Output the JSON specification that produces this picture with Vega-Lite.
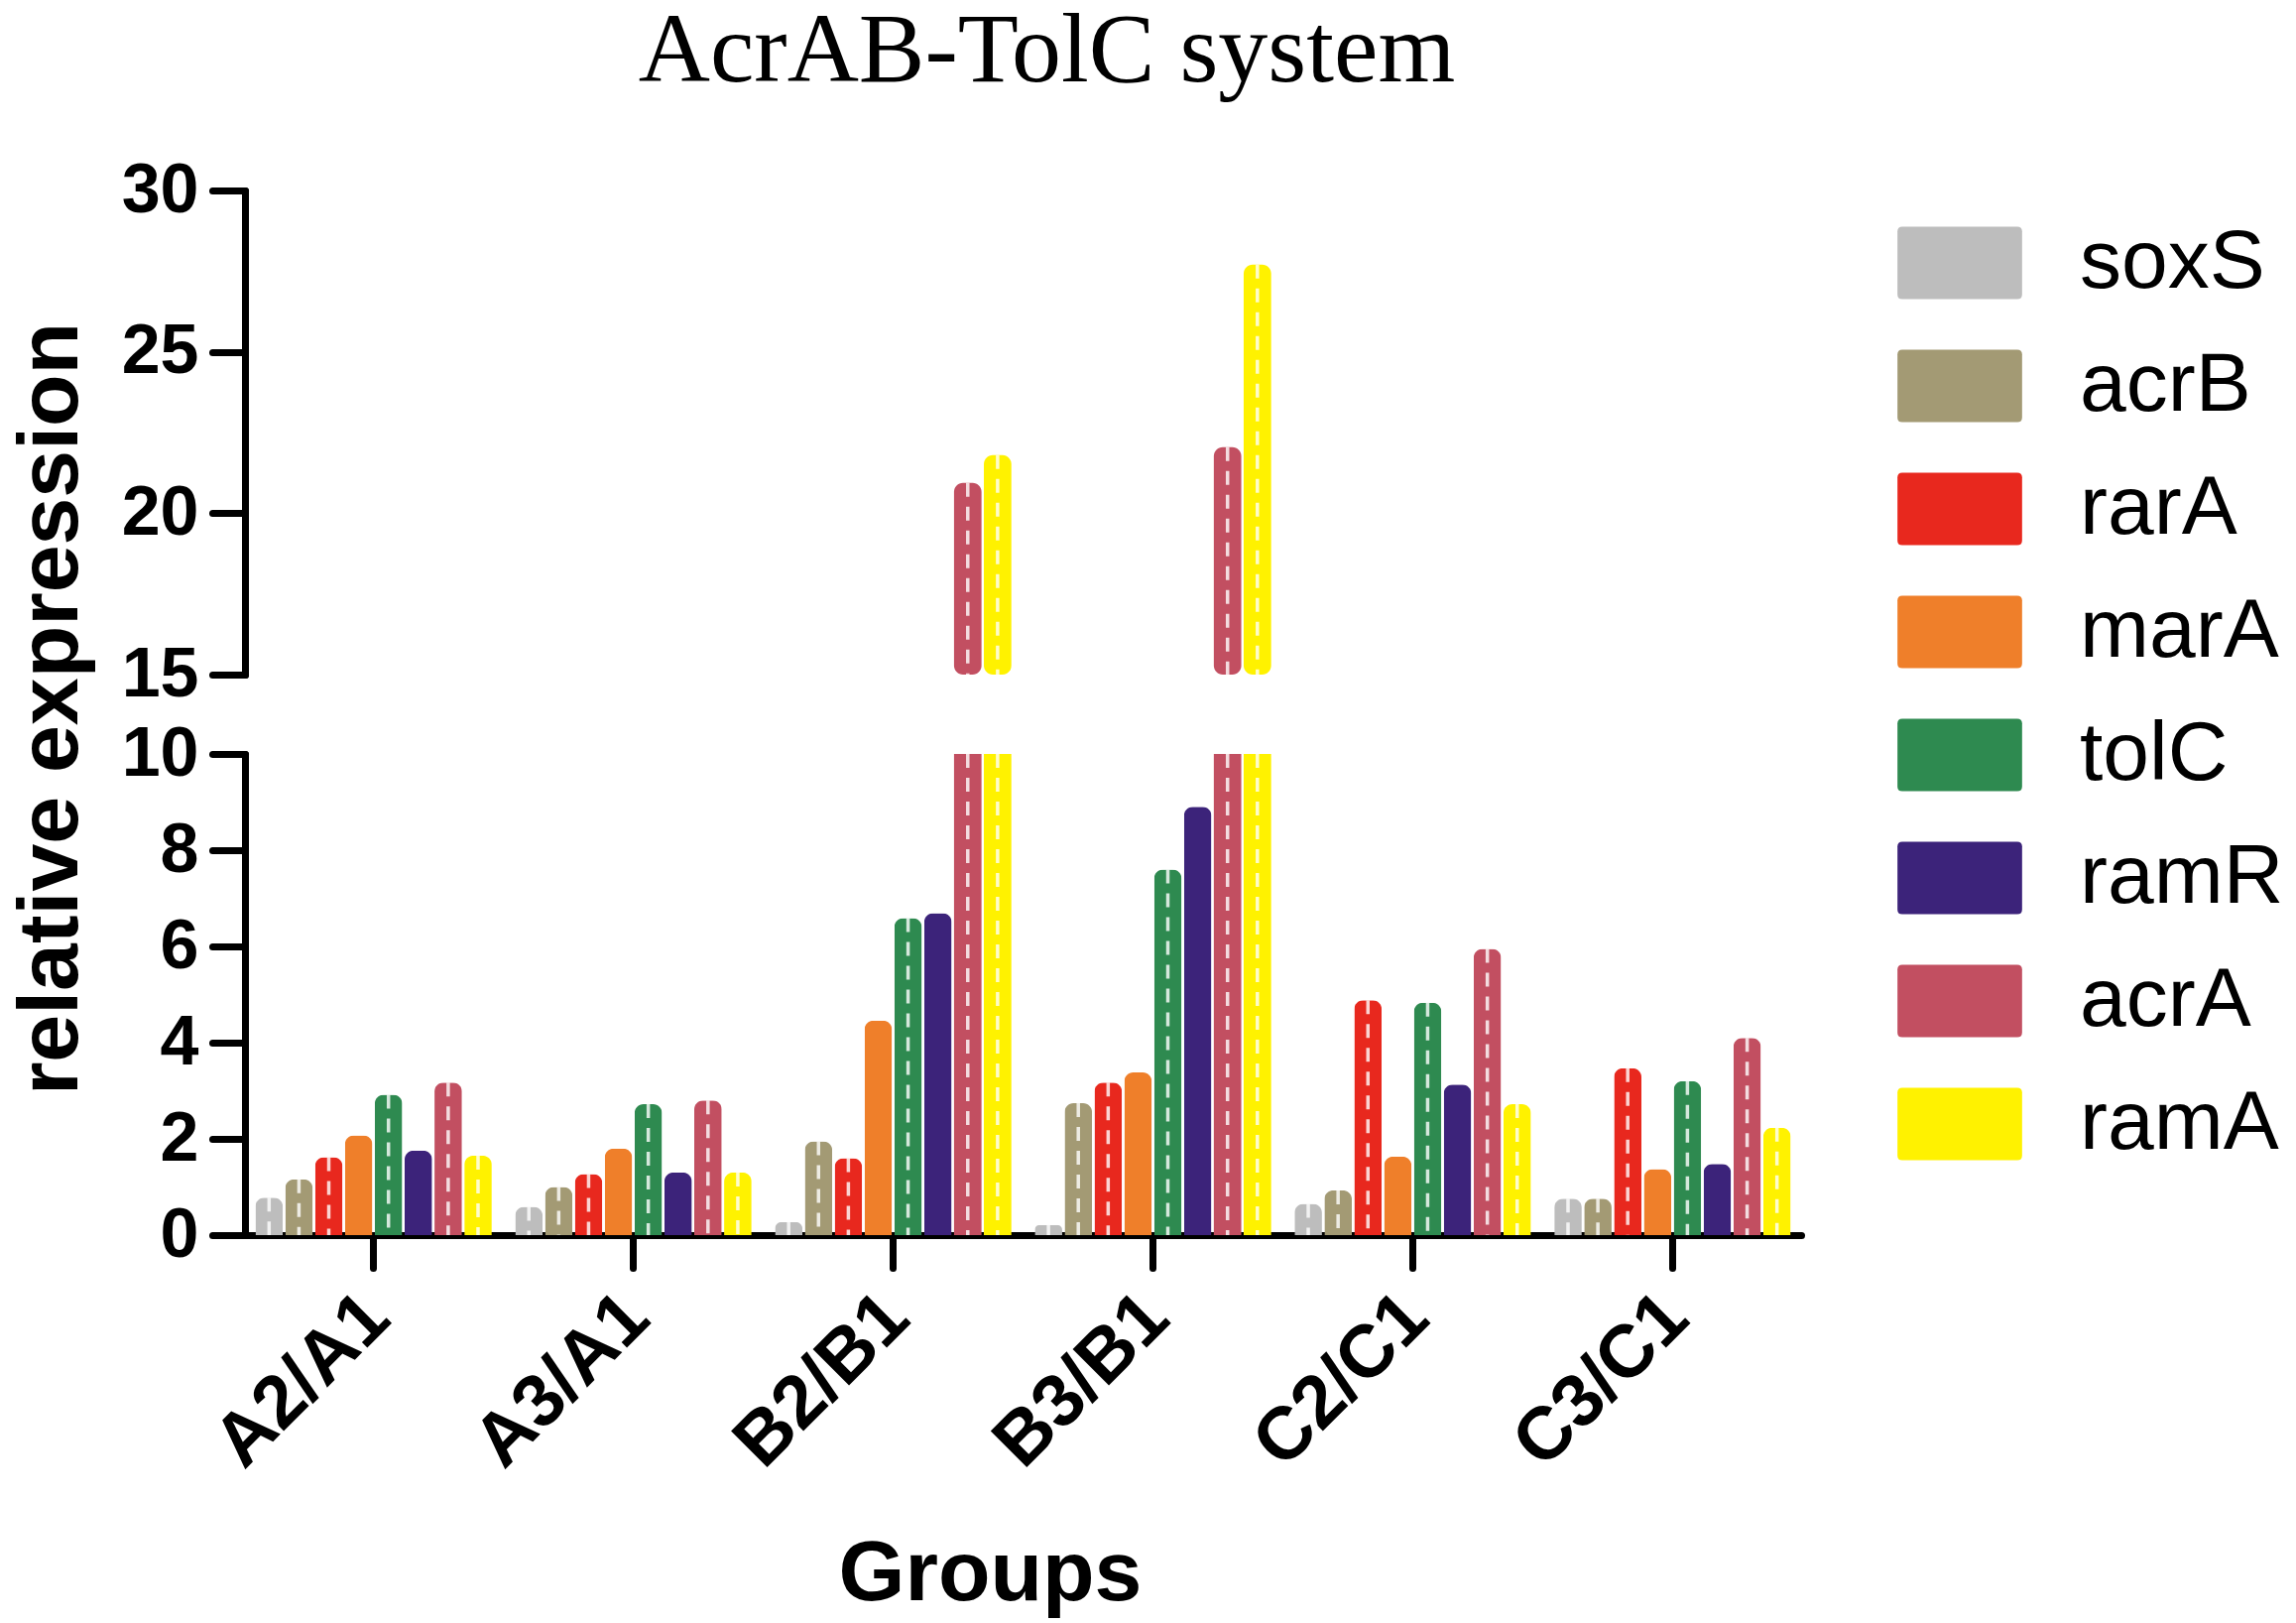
{
  "$schema": "https://vega.github.io/schema/vega-lite/v6.json",
  "autosize": "none",
  "padding": {"left": 247, "top": 192, "right": 2068, "bottom": 1444},
  "background": "white",
  "bounds": "flush",
  "spacing": 80,
  "datasets": {
    "expr": [
      {"group": "A2/A1", "gene": "soxS", "value": 0.78},
      {"group": "A2/A1", "gene": "acrB", "value": 1.16},
      {"group": "A2/A1", "gene": "rarA", "value": 1.62},
      {"group": "A2/A1", "gene": "marA", "value": 2.07},
      {"group": "A2/A1", "gene": "tolC", "value": 2.92},
      {"group": "A2/A1", "gene": "ramR", "value": 1.76},
      {"group": "A2/A1", "gene": "acrA", "value": 3.17},
      {"group": "A2/A1", "gene": "ramA", "value": 1.65},
      {"group": "A3/A1", "gene": "soxS", "value": 0.59},
      {"group": "A3/A1", "gene": "acrB", "value": 1.0},
      {"group": "A3/A1", "gene": "rarA", "value": 1.27},
      {"group": "A3/A1", "gene": "marA", "value": 1.8},
      {"group": "A3/A1", "gene": "tolC", "value": 2.72},
      {"group": "A3/A1", "gene": "ramR", "value": 1.3},
      {"group": "A3/A1", "gene": "acrA", "value": 2.8},
      {"group": "A3/A1", "gene": "ramA", "value": 1.3},
      {"group": "B2/B1", "gene": "soxS", "value": 0.27},
      {"group": "B2/B1", "gene": "acrB", "value": 1.95},
      {"group": "B2/B1", "gene": "rarA", "value": 1.6},
      {"group": "B2/B1", "gene": "marA", "value": 4.46},
      {"group": "B2/B1", "gene": "tolC", "value": 6.59},
      {"group": "B2/B1", "gene": "ramR", "value": 6.69},
      {"group": "B2/B1", "gene": "acrA", "value": 20.94},
      {"group": "B2/B1", "gene": "ramA", "value": 21.8},
      {"group": "B3/B1", "gene": "soxS", "value": 0.21},
      {"group": "B3/B1", "gene": "acrB", "value": 2.74},
      {"group": "B3/B1", "gene": "rarA", "value": 3.17},
      {"group": "B3/B1", "gene": "marA", "value": 3.38},
      {"group": "B3/B1", "gene": "tolC", "value": 7.6},
      {"group": "B3/B1", "gene": "ramR", "value": 8.9},
      {"group": "B3/B1", "gene": "acrA", "value": 22.05},
      {"group": "B3/B1", "gene": "ramA", "value": 27.7},
      {"group": "C2/C1", "gene": "soxS", "value": 0.65},
      {"group": "C2/C1", "gene": "acrB", "value": 0.93},
      {"group": "C2/C1", "gene": "rarA", "value": 4.88},
      {"group": "C2/C1", "gene": "marA", "value": 1.63},
      {"group": "C2/C1", "gene": "tolC", "value": 4.83},
      {"group": "C2/C1", "gene": "ramR", "value": 3.13},
      {"group": "C2/C1", "gene": "acrA", "value": 5.95},
      {"group": "C2/C1", "gene": "ramA", "value": 2.72},
      {"group": "C3/C1", "gene": "soxS", "value": 0.76},
      {"group": "C3/C1", "gene": "acrB", "value": 0.76},
      {"group": "C3/C1", "gene": "rarA", "value": 3.47},
      {"group": "C3/C1", "gene": "marA", "value": 1.37},
      {"group": "C3/C1", "gene": "tolC", "value": 3.2},
      {"group": "C3/C1", "gene": "ramR", "value": 1.48},
      {"group": "C3/C1", "gene": "acrA", "value": 4.1},
      {"group": "C3/C1", "gene": "ramA", "value": 2.23}
    ]
  },
  "vconcat": [
    {
      "width": 1569,
      "height": 488,
      "title": {
        "text": "AcrAB-TolC system",
        "font": "Liberation Serif",
        "fontSize": 100,
        "fontWeight": "normal",
        "color": "black",
        "anchor": "middle",
        "frame": "group",
        "baseline": "alphabetic",
        "dx": 24,
        "offset": -25
      },
      "data": {"name": "expr"},
      "transform": [{"filter": "datum.value > 15"}],
      "layer": [
        {
          "mark": {"type": "bar", "cornerRadiusEnd": 9},
          "encoding": {
            "x": {"field": "group", "type": "nominal", "axis": null,
                  "scale": {"domain": ["A2/A1", "A3/A1", "B2/B1", "B3/B1", "C2/C1", "C3/C1"], "paddingInner": 0.09, "paddingOuter": 0.04}},
            "xOffset": {"field": "gene", "type": "nominal",
                        "scale": {"domain": ["soxS", "acrB", "rarA", "marA", "tolC", "ramR", "acrA", "ramA"], "paddingInner": 0.08}},
            "y": {"field": "value", "type": "quantitative",
                  "scale": {"domain": [15, 30], "nice": false, "zero": false},
                  "axis": {"values": [15, 20, 25, 30], "title": "relative expression",
                           "titleX": -170, "titleY": 522, "titleAngle": -90, "titleBaseline": "alphabetic", "titleAlign": "center"}},
            "y2": {"datum": 15},
            "color": {"field": "gene", "type": "nominal",
                      "scale": {"domain": ["soxS", "acrB", "rarA", "marA", "tolC", "ramR", "acrA", "ramA"],
                                "range": ["#bdbdbd", "#a39a74", "#e8281e", "#ef7f2a", "#2e8a50", "#3c237a", "#c24f61", "#fff200"]},
                      "legend": {"title": null, "orient": "none", "legendX": 1668, "legendY": 12,
                                 "symbolType": "M-0.95,-0.6H0.95Q1.03,-0.6,1.03,-0.52V0.52Q1.03,0.6,0.95,0.6H-0.95Q-1.03,0.6,-1.03,0.52V-0.52Q-1.03,-0.6,-0.95,-0.6Z",
                                 "symbolSize": 14884,
                                 "symbolStrokeWidth": 0, "symbolOpacity": 1, "labelFontSize": 84,
                                 "labelOffset": 60, "rowPadding": 21, "padding": 0, "labelLimit": 0,
                                 "labelColor": "black", "labelFont": "Liberation Sans"}}
          }
        },
        {
          "transform": [{"filter": {"field": "gene", "oneOf": ["soxS", "acrB", "rarA", "tolC", "acrA", "ramA"]}}],
          "mark": {"type": "rule", "color": "white", "strokeWidth": 3.5, "strokeDash": [14, 10], "opacity": 0.8},
          "encoding": {
            "x": {"field": "group", "type": "nominal"},
            "xOffset": {"field": "gene", "type": "nominal"},
            "y": {"field": "value", "type": "quantitative"},
            "y2": {"datum": 15}
          }
        }
      ]
    },
    {
      "width": 1569,
      "height": 485,
      "data": {"name": "expr"},
      "encoding": {
        "x": {"field": "group", "type": "nominal",
              "scale": {"domain": ["A2/A1", "A3/A1", "B2/B1", "B3/B1", "C2/C1", "C3/C1"], "paddingInner": 0.09, "paddingOuter": 0.04},
              "axis": {"labelAngle": -45, "labelFontSize": 75, "labelPadding": 12, "labelOffset": -22, "labelLimit": 0, "title": "Groups",
                       "titleX": 751, "titleY": 367, "titleBaseline": "alphabetic", "titleAlign": "center"}},
        "xOffset": {"field": "gene", "type": "nominal",
                    "scale": {"domain": ["soxS", "acrB", "rarA", "marA", "tolC", "ramR", "acrA", "ramA"], "paddingInner": 0.08}},
        "y": {"field": "value", "type": "quantitative",
              "scale": {"domain": [0, 10], "nice": false, "clamp": true},
              "axis": {"values": [0, 2, 4, 6, 8, 10], "title": null}}
      },
      "layer": [
        {
          "transform": [{"filter": "datum.value <= 10"}],
          "mark": {"type": "bar", "cornerRadiusEnd": 9},
          "encoding": {"color": {"field": "gene", "type": "nominal"}}
        },
        {
          "transform": [{"filter": "datum.value > 10"}],
          "mark": {"type": "bar"},
          "encoding": {"color": {"field": "gene", "type": "nominal"}}
        },
        {
          "transform": [{"filter": {"field": "gene", "oneOf": ["soxS", "acrB", "rarA", "tolC", "acrA", "ramA"]}}],
          "mark": {"type": "rule", "color": "white", "strokeWidth": 3.5, "strokeDash": [14, 10], "opacity": 0.8},
          "encoding": {"y2": {"datum": 0}}
        }
      ]
    }
  ],
  "resolve": {"scale": {"y": "independent"}},
  "config": {
    "font": "Liberation Sans",
    "view": {"stroke": null},
    "axis": {
      "grid": false,
      "domainColor": "black",
      "domainWidth": 7,
      "domainCap": "round",
      "tickColor": "black",
      "tickWidth": 7,
      "tickSize": 33,
      "tickCap": "round",
      "labelFont": "Liberation Sans",
      "labelFontWeight": "bold",
      "labelFontSize": 70,
      "labelColor": "black",
      "labelPadding": 14,
      "titleFont": "Liberation Sans",
      "titleFontWeight": "bold",
      "titleFontSize": 86,
      "titleColor": "black"
    }
  }
}
